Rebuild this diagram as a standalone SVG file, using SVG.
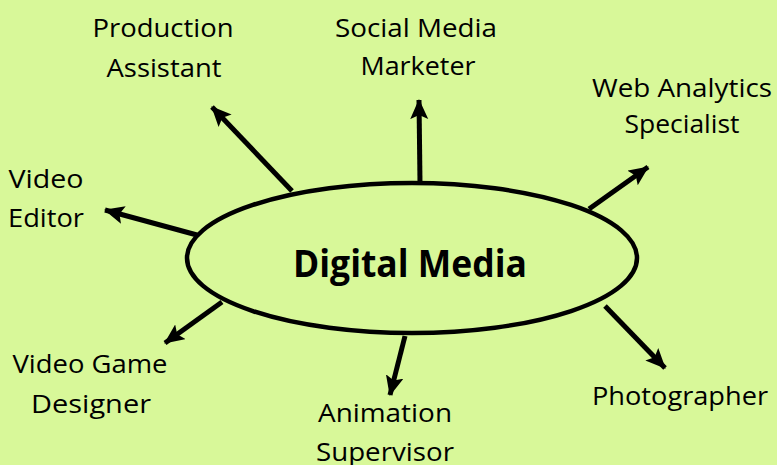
<svg xmlns="http://www.w3.org/2000/svg" width="777" height="465" viewBox="0 0 777 465">
<style>
.lbl{font-family:"Open Sans","Noto Sans","Liberation Sans",sans-serif;font-size:25px;fill:#000;text-anchor:middle}
.cn{stroke:#000;stroke-width:5;fill:none}
</style>
<defs>
<marker id="ah" markerUnits="userSpaceOnUse" markerWidth="22" markerHeight="20" refX="19" refY="9" orient="auto">
<path d="M0,0 L20,9 L0,18 L4,9 Z" fill="#000"/>
</marker>
</defs>
<rect width="777" height="465" fill="#d8f899"/>
<g id="connectors">
<line class="cn" x1="292" y1="191" x2="212" y2="107" marker-end="url(#ah)"/>
<line class="cn" x1="420" y1="183" x2="419" y2="100" marker-end="url(#ah)"/>
<line class="cn" x1="589" y1="209" x2="648" y2="167" marker-end="url(#ah)"/>
<line class="cn" x1="197" y1="235" x2="105" y2="210" marker-end="url(#ah)"/>
<line class="cn" x1="222" y1="302" x2="165" y2="343" marker-end="url(#ah)"/>
<line class="cn" x1="405" y1="336" x2="390" y2="395" marker-end="url(#ah)"/>
<line class="cn" x1="605" y1="306" x2="665" y2="368" marker-end="url(#ah)"/>
</g>
<g id="center">
<ellipse cx="412" cy="258" rx="225" ry="75" fill="#d8f899" stroke="#000" stroke-width="4.5"/>
<text x="410" y="277" font-family="Open Sans,Noto Sans,Liberation Sans,sans-serif" font-size="37" font-weight="bold" text-anchor="middle" textLength="234" lengthAdjust="spacingAndGlyphs">Digital Media</text>
</g>
<g id="production-assistant">
<text class="lbl" x="163" y="37" textLength="141" lengthAdjust="spacingAndGlyphs">Production</text>
<text class="lbl" x="164" y="77" textLength="115" lengthAdjust="spacingAndGlyphs">Assistant</text>
</g>
<g id="social-media-marketer">
<text class="lbl" x="416" y="37" textLength="162" lengthAdjust="spacingAndGlyphs">Social Media</text>
<text class="lbl" x="418" y="75" textLength="115" lengthAdjust="spacingAndGlyphs">Marketer</text>
</g>
<g id="web-analytics-specialist">
<text class="lbl" x="682" y="97" textLength="180" lengthAdjust="spacingAndGlyphs">Web Analytics</text>
<text class="lbl" x="682" y="133" textLength="115" lengthAdjust="spacingAndGlyphs">Specialist</text>
</g>
<g id="video-editor">
<text class="lbl" x="46" y="188" textLength="75" lengthAdjust="spacingAndGlyphs">Video</text>
<text class="lbl" x="46" y="227" textLength="76" lengthAdjust="spacingAndGlyphs">Editor</text>
</g>
<g id="video-game-designer">
<text class="lbl" x="90" y="373" textLength="155" lengthAdjust="spacingAndGlyphs">Video Game</text>
<text class="lbl" x="91" y="413" textLength="120" lengthAdjust="spacingAndGlyphs">Designer</text>
</g>
<g id="animation-supervisor">
<text class="lbl" x="385" y="422" textLength="134" lengthAdjust="spacingAndGlyphs">Animation</text>
<text class="lbl" x="385" y="461" textLength="138" lengthAdjust="spacingAndGlyphs">Supervisor</text>
</g>
<g id="photographer">
<text class="lbl" x="680" y="405" textLength="176" lengthAdjust="spacingAndGlyphs">Photographer</text>
</g>
</svg>
